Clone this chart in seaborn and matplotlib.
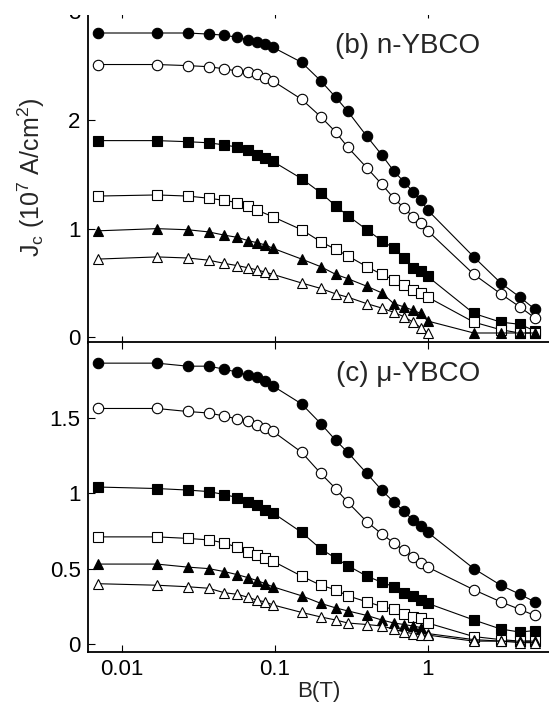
import numpy as np
import matplotlib
matplotlib.use("Agg")
import matplotlib.pyplot as plt
from matplotlib.patches import Rectangle
from matplotlib.ticker import NullLocator, FixedLocator, FixedFormatter
import seaborn as sns

nan = np.nan

# Applied field B (T)
B = [0.007, 0.017, 0.027, 0.037, 0.047, 0.057, 0.067, 0.077, 0.087, 0.097,
     0.15, 0.2, 0.25, 0.3, 0.4, 0.5, 0.6, 0.7, 0.8, 0.9, 1.0, 2, 3, 4, 5]

# (b) n-YBCO, Jc in 1e7 A/cm^2
n_fc = [2.80, 2.80, 2.80, 2.79, 2.78, 2.76, 2.74, 2.72, 2.70, 2.67, 2.53, 2.36, 2.21,
        2.08, 1.85, 1.68, 1.53, 1.43, 1.34, 1.26, 1.17, 0.74, 0.50, 0.37, 0.26]
n_oc = [2.51, 2.51, 2.50, 2.49, 2.47, 2.45, 2.44, 2.42, 2.39, 2.36, 2.19, 2.03, 1.89,
        1.75, 1.56, 1.41, 1.28, 1.19, 1.11, 1.05, 0.98, 0.58, 0.40, 0.28, 0.18]
n_fs = [1.81, 1.81, 1.80, 1.79, 1.77, 1.75, 1.72, 1.68, 1.65, 1.62, 1.46, 1.33, 1.21,
        1.12, 0.99, 0.89, 0.82, 0.73, 0.64, 0.61, 0.56, 0.22, 0.14, 0.12, 0.06]
n_os = [1.30, 1.31, 1.30, 1.28, 1.26, 1.24, 1.21, 1.17, nan, 1.11, 0.99, 0.88, 0.81,
        0.75, 0.65, 0.58, 0.53, 0.48, 0.44, 0.41, 0.37, 0.14, 0.07, 0.04, 0.04]
n_ft = [0.98, 1.00, 0.99, 0.97, 0.94, 0.92, 0.89, 0.87, 0.85, 0.82, 0.72, 0.65, 0.58,
        0.54, 0.47, 0.41, 0.31, 0.28, 0.25, 0.22, 0.15, 0.04, 0.04, 0.04, 0.04]
n_ot = [0.72, 0.74, 0.73, 0.71, 0.68, 0.66, 0.64, 0.62, 0.60, 0.58, 0.50, 0.45, 0.40,
        0.37, 0.31, 0.27, 0.23, 0.19, 0.14, 0.09, 0.04, nan, nan, nan, nan]

# (c) mu-YBCO, Jc in 1e7 A/cm^2
m_fc = [1.86, 1.86, 1.84, 1.84, 1.82, 1.80, 1.78, 1.77, 1.74, 1.71, 1.59, 1.46, 1.35,
        1.27, 1.13, 1.02, 0.94, 0.88, 0.82, 0.78, 0.74, 0.50, 0.39, 0.33, 0.28]
m_oc = [1.56, 1.56, 1.54, 1.53, 1.51, 1.49, 1.48, 1.45, 1.43, 1.41, 1.27, 1.13, 1.03,
        0.94, 0.81, 0.73, 0.67, 0.62, 0.58, 0.54, 0.51, 0.36, 0.28, 0.23, 0.19]
m_fs = [1.04, 1.03, 1.02, 1.01, 0.99, 0.97, 0.94, 0.92, 0.89, 0.87, 0.74, 0.63, 0.57,
        0.52, 0.45, 0.41, 0.38, 0.34, 0.32, 0.29, 0.27, 0.16, 0.10, 0.08, 0.09]
m_os = [0.71, 0.71, 0.70, 0.69, 0.67, 0.64, 0.61, 0.59, 0.57, 0.55, 0.45, 0.39, 0.36,
        0.32, 0.28, 0.25, 0.23, 0.20, 0.18, 0.17, 0.14, 0.05, 0.03, 0.02, 0.02]
m_ft = [0.53, 0.53, 0.51, 0.50, 0.48, 0.46, 0.44, 0.42, 0.40, 0.38, 0.32, 0.27, 0.24,
        0.22, 0.19, 0.16, 0.14, 0.13, 0.12, 0.11, 0.07, 0.03, 0.02, 0.02, 0.02]
m_ot = [0.40, 0.39, 0.38, 0.37, 0.34, 0.33, 0.31, 0.29, 0.28, 0.26, 0.21, 0.18, 0.16,
        0.14, 0.13, 0.12, 0.10, 0.08, 0.07, 0.06, 0.06, 0.02, 0.02, 0.01, 0.01]

x_ticks = [0.01, 0.1, 1]
x_ticklabels = ["0.01", "0.1", "1"]
n_yticks = [0, 1, 2, 3]
m_yticks = [0, 0.5, 1, 1.5]
m_yticklabels = ["0", "0.5", "1", "1.5"]

sns.set_style("ticks")
plt.rcParams["font.family"] = ["Liberation Sans", "DejaVu Sans"]
plt.rcParams["mathtext.fontset"] = "custom"
plt.rcParams["mathtext.rm"] = "Liberation Sans"
plt.rcParams["mathtext.it"] = "Liberation Sans:italic"
plt.rcParams["mathtext.default"] = "regular"

fig = plt.figure(figsize=(5.49, 7.04), dpi=100)
ax_n = fig.add_axes([0.1597, 0.5131, 0.8403, 0.4709])
ax_m = fig.add_axes([0.1597, 0.0743, 0.8403, 0.4399])

# marker, filled?, size
styles = [("o", True, 7.5), ("o", False, 7.5), ("s", True, 7.0),
          ("s", False, 7.0), ("^", True, 7.5), ("^", False, 7.5)]


def draw_panel(ax, series):
    ax.set_xscale("log")
    for vals, (mk, filled, ms) in zip(series, styles):
        sns.lineplot(x=B, y=vals, ax=ax, color="black", linewidth=0.8,
                     marker=mk, markersize=ms,
                     markerfacecolor="black" if filled else "white",
                     markeredgecolor="black", markeredgewidth=0.8,
                     estimator=None, sort=False, legend=False)
    ax.set_xlim(0.006, 6.2)
    ax.xaxis.set_major_locator(FixedLocator(x_ticks))
    ax.xaxis.set_minor_locator(NullLocator())
    ax.yaxis.set_minor_locator(NullLocator())
    ax.tick_params(direction="in", top=True, right=False, length=5, width=0.8,
                   labelsize=16, pad=5, colors="black")
    ax.spines["right"].set_visible(False)
    for s in ("left", "bottom", "top"):
        ax.spines[s].set_linewidth(1.3)
        ax.spines[s].set_color("black")
    ax.set_xlabel("")
    ax.set_ylabel("")


draw_panel(ax_n, [n_fc, n_oc, n_fs, n_os, n_ft, n_ot])
draw_panel(ax_m, [m_fc, m_oc, m_fs, m_os, m_ft, m_ot])

ax_n.set_ylim(-0.05, 3.0)
ax_n.yaxis.set_major_locator(FixedLocator(n_yticks))
ax_n.tick_params(labelbottom=False)

ax_m.set_ylim(-0.05, 2.0)
ax_m.yaxis.set_major_locator(FixedLocator(m_yticks))
ax_m.yaxis.set_major_formatter(FixedFormatter(m_yticklabels))
ax_m.xaxis.set_major_formatter(FixedFormatter(x_ticklabels))

ax_n.set_ylabel(r"J$_c$ (10$^7$ A/cm$^2$)", fontsize=18, va="center")
ax_n.yaxis.set_label_coords(-0.123, 0.5)
ax_m.set_xlabel("B(T)", fontsize=16, labelpad=1)

ax_n.text(0.85, 0.895, "(b) n-YBCO", transform=ax_n.transAxes,
          ha="right", va="center", fontsize=20)
ax_m.text(0.85, 0.897, "(c) \u03bc-YBCO", transform=ax_m.transAxes,
          ha="right", va="center", fontsize=20)

# trim the top margin strip
fig.add_artist(Rectangle((0, 1 - 14.5 / 704), 1, 14.5 / 704,
                         transform=fig.transFigure, facecolor="white",
                         edgecolor="none", zorder=100))

fig.savefig("out.png", dpi=100)
